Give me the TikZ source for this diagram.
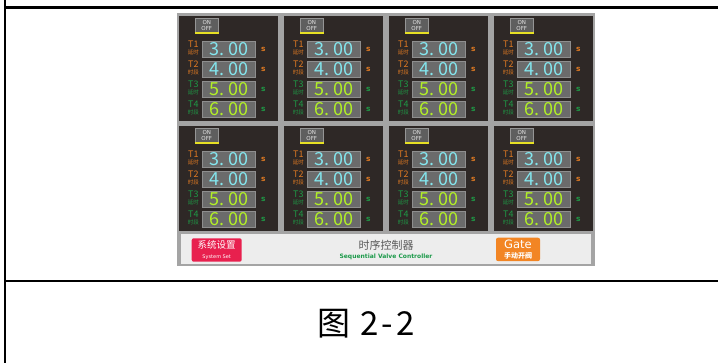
\documentclass[tikz,border=0pt]{standalone}
\usepackage{fontspec}
\setmainfont{Noto Sans CJK SC}
\newfontfamily\latn{DejaVu Sans}
\usetikzlibrary{positioning,calc}

\definecolor{panelgrey}{HTML}{A4A4A4}
\definecolor{cellbg}{HTML}{2E2826}
\definecolor{boxbg}{HTML}{6B6B6B}
\definecolor{boxedge}{HTML}{8E8E8E}
\definecolor{valcyan}{HTML}{84E6EE}
\definecolor{valgreen}{HTML}{B2F026}
\definecolor{torange}{HTML}{E07A22}
\definecolor{tgreen}{HTML}{1E9A46}
\definecolor{btnbg}{HTML}{5E5E5E}
\definecolor{btnedge}{HTML}{959595}
\definecolor{btntext}{HTML}{E4E4E4}
\definecolor{btnline}{HTML}{E6E024}
\definecolor{barbg}{HTML}{EDEDED}
\definecolor{keyred}{HTML}{E8204E}
\definecolor{keyorange}{HTML}{F28524}
\definecolor{titlegrey}{HTML}{5A5A5A}
\definecolor{titlegreen}{HTML}{1C9A4A}

\newcommand{\capchar}[1]{\makebox[18pt]{#1}}

\begin{document}
\begin{tikzpicture}[
    x=1pt, y=-1pt,
    valbox/.style={rectangle, draw=boxedge, fill=boxbg, line width=0.8pt, minimum width=53pt, minimum height=16.5pt, inner sep=0pt, font=\fontsize{18}{18}\selectfont},
    tname/.style={inner sep=0pt, font=\fontsize{9}{9}\selectfont},
    tsub/.style={inner sep=0pt, font=\fontsize{5.5}{5.5}\selectfont},
    unit/.style={inner sep=0pt, font=\latn\bfseries\fontsize{7.5}{7.5}\selectfont},
    onoff/.style={rectangle, draw=btnedge, fill=btnbg, minimum width=23pt, minimum height=14.5pt, inner sep=0pt, align=center, text=btntext, font=\latn\fontsize{5.5}{6.5}\selectfont},
    softkey/.style={rectangle, rounded corners=2pt, minimum height=23.4pt, inner sep=0pt, align=center, text=white}
]
    \useasboundingbox (0,0) rectangle (718,363);

    % table rules
    \draw[line width=2.2pt] (5,0) -- (5,363);
    \draw[line width=2.4pt] (4,7.5) -- (718,7.5);
    \draw[line width=2.4pt] (4,281) -- (718,281);

    % panel
    \fill[panelgrey] (177,13) rectangle (595,266);
    \fill[barbg] (181,234) rectangle (591,264);

    \foreach \i in {0,1,2,3} {
        \foreach \j in {0,1} {
            \begin{scope}[shift={(179.3+105*\i,16+110*\j)}]
                \fill[cellbg] (0,0) rectangle (99,105);
                \node[onoff] (B\i\j) at (27.5,9.5) {ON\\OFF};
                \draw[btnline, line width=1.5pt] (B\i\j.south west) -- (B\i\j.south east);
                \foreach \k/\n/\v/\vc/\tc/\sub in {0/1/3/valcyan/torange/延时, 1/2/4/valcyan/torange/时段, 2/3/5/valgreen/tgreen/延时, 3/4/6/valgreen/tgreen/时段} {
                    \node[valbox, text=\vc] (V\i\j\k) at (49.5,33.3+20*\k) {\v.\hspace{3.5pt}00};
                    \node[tname, text=\tc] (T\i\j\k) at (14,28.5+20*\k) {T\n};
                    \node[tsub, text=\tc] (L\i\j\k) at (14,36+20*\k) {\sub};
                    \node[unit, text=\tc] (S\i\j\k) at (84,33.3+20*\k) {s};
                }
            \end{scope}
        }
    }

    % bottom bar
    \node[softkey, fill=keyred, minimum width=50pt] (sys) at (216.7,250) {{\fontsize{9.5}{10}\selectfont 系统设置}\\[-1.5pt]{\latn\fontsize{5}{6}\selectfont System Set}};
    \node[text=titlegrey, inner sep=0pt, font=\fontsize{11}{11}\selectfont] (title) at (386,245.5) {时序控制器};
    \node[text=titlegreen, inner sep=0pt, font=\latn\bfseries\fontsize{6}{6}\selectfont] (subtitle) at (386,256.5) {Sequential Valve Controller};
    \node[softkey, fill=keyorange, minimum width=44pt] (gate) at (518,249.4) {{\latn\fontsize{11.5}{12}\selectfont Gate}\\[-1.5pt]{\bfseries\fontsize{7}{7.5}\selectfont 手动开阀}};

    % caption
    \node[inner sep=0pt, font=\fontsize{33}{33}\selectfont] (cap) at (366,323.5) {图\hspace{10pt}\capchar{2}\capchar{-}\capchar{2}};
\end{tikzpicture}
\end{document}
